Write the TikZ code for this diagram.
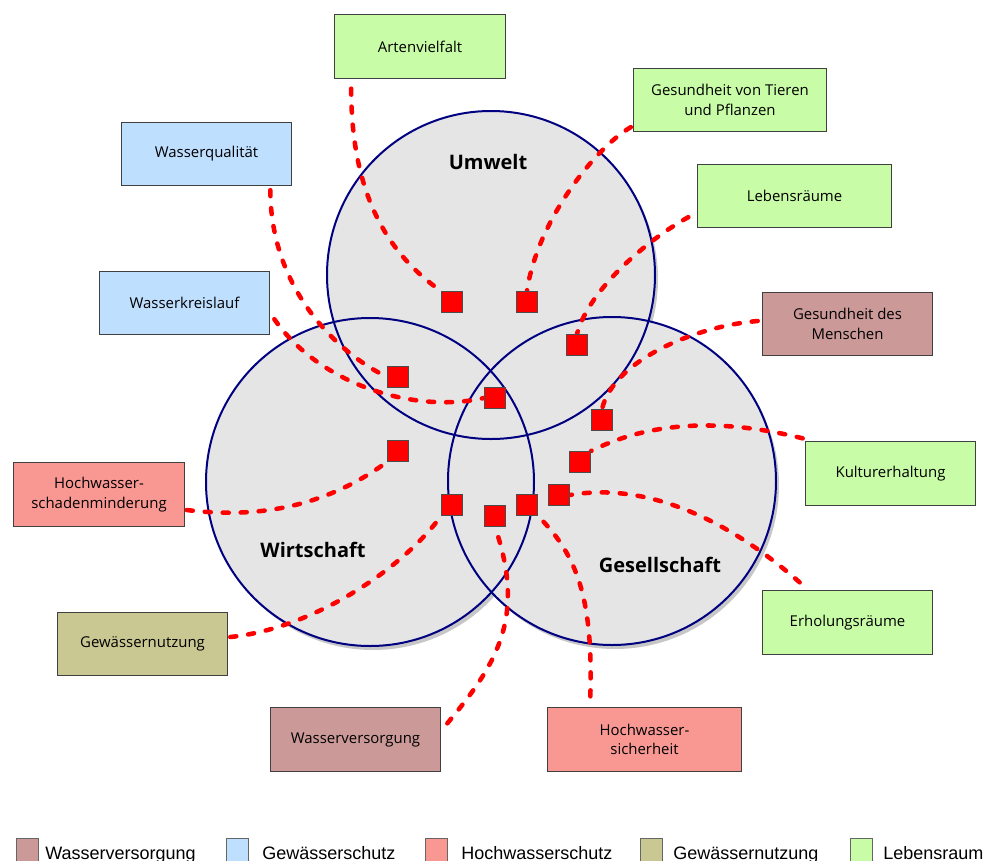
\documentclass[tikz,border=0pt]{standalone}
\usepackage{fontspec}
\setmainfont{Open Sans}
\newfontfamily\legendfont{Liberation Sans}
\usepackage{xcolor}
\usepackage{tikz}
\usetikzlibrary{positioning}
\definecolor{lebensraum}{HTML}{C8FCA6}
\definecolor{gschutz}{HTML}{BFDFFF}
\definecolor{wversorg}{HTML}{CC9999}
\definecolor{hwschutz}{HTML}{F99893}
\definecolor{gnutzung}{HTML}{CAC892}
\definecolor{kreisrand}{HTML}{000080}
\pgfdeclarelayer{kreise}
\pgfdeclarelayer{linien}
\pgfsetlayers{kreise,linien,main}
\def\KRad{164}
\def\BoxW{128pt}
\def\BoxWide{145pt}
\def\BoxH{47.5pt}
\tikzset{
	thema/.style={draw=black!75,line width=0.75pt,minimum width=\BoxW,minimum height=\BoxH,
		align=center,inner sep=2pt,font=\fontsize{11.2pt}{14.5pt}\selectfont},
	breit/.style={thema,minimum width=\BoxWide},
	punkt/.style={draw=black!70,fill=red,line width=0.75pt,minimum size=15.75pt,inner sep=0pt},
	bezug/.style={red,line width=3.4pt,dash pattern=on 4.5pt off 9pt,line cap=round},
	kreistitel/.style={font=\fontsize{15pt}{18pt}\selectfont\bfseries},
	legfeld/.style={draw=black!60,line width=0.6pt,minimum width=16.5pt,minimum height=24pt,inner sep=0pt,anchor=north west},
	legtext/.style={font=\fontsize{13.5pt}{16pt}\legendfont,anchor=base west,inner sep=0pt}
}

\begin{document}
\begin{tikzpicture}[x=0.75pt,y=-0.75pt]
	\useasboundingbox (0,0) rectangle (990,861);
	% circles
	\coordinate (umw) at (491,275);
	\coordinate (wirt) at (370,482);
	\coordinate (ges) at (612,481);
	\begin{pgfonlayer}{kreise}
		\foreach \c in {umw,wirt,ges}
			\fill[black!22] ([shift={(3,4)}]\c) circle (\KRad);
		\foreach \c in {umw,wirt,ges}
			\fill[black!10] (\c) circle (\KRad);
		\foreach \c in {umw,wirt,ges}
			\draw[kreisrand,line width=1.5pt] (\c) circle (\KRad);
	\end{pgfonlayer}
	\node[kreistitel] (umw-t) at (488,162) {Umwelt};
	\node[kreistitel] (wirt-t) at (313,550) {Wirtschaft};
	\node[kreistitel] (ges-t) at (660,565) {Gesellschaft};
	% boxes
	\node[thema,fill=lebensraum] (art) at (420,46.5) {Artenvielfalt};
	\node[breit,fill=lebensraum] (tier) at (730,100) {Gesundheit von Tieren\\und Pflanzen};
	\node[breit,fill=lebensraum] (leb) at (794.5,196) {Lebensräume};
	\node[thema,fill=gschutz] (wq) at (206.5,154) {Wasserqualität};
	\node[thema,fill=gschutz] (wk) at (184.5,303) {Wasserkreislauf};
	\node[thema,fill=wversorg] (mensch) at (847.5,324) {Gesundheit des\\Menschen};
	\node[thema,fill=lebensraum] (kult) at (890.5,473.5) {Kulturerhaltung};
	\node[thema,fill=lebensraum] (erh) at (847.5,622.5) {Erholungsräume};
	\node[thema,fill=hwschutz] (hws) at (99,494.5) {Hochwasser-\\schadenminderung};
	\node[thema,fill=gnutzung] (gn) at (142.5,644) {Gewässernutzung};
	\node[thema,fill=wversorg] (wv) at (355.5,739.5) {Wasserversorgung};
	\node[breit,fill=hwschutz] (hwsi) at (644.5,739.5) {Hochwasser-\\sicherheit};
	% markers
	\node[punkt] (p-art) at (452,302) {};
	\node[punkt] (p-tier) at (527,302) {};
	\node[punkt] (p-leb) at (577,345) {};
	\node[punkt] (p-wq) at (398,377) {};
	\node[punkt] (p-wk) at (495,398) {};
	\node[punkt] (p-mensch) at (602,420) {};
	\node[punkt] (p-kult) at (580,462) {};
	\node[punkt] (p-hws) at (398,451) {};
	\node[punkt] (p-gn) at (452,505) {};
	\node[punkt] (p-wv) at (495,516) {};
	\node[punkt] (p-hwsi) at (527,505) {};
	\node[punkt] (p-erh) at (559,495) {};
	% links
	\begin{pgfonlayer}{linien}
		\draw[bezug] ([shift={(17,10)}]art.south west) .. controls +(0,110) and +(-50,-35) .. (p-art.north west);
		\draw[bezug] ([shift={(-2,-5)}]tier.south west) .. controls +(-35,20) and +(10,-70) .. (p-tier.north);
		\draw[bezug] ([shift={(-9,-11)}]leb.south west) .. controls +(-40,22) and +(12,-45) .. (p-leb.north);
		\draw[bezug] ([shift={(-22,4)}]wq.south east) .. controls +(0,90) and +(-60,-30) .. (p-wq.west);
		\draw[bezug] ([shift={(4,-16)}]wk.south east) .. controls +(45,65) and +(-70,16) .. (p-wk.west);
		\draw[bezug] ([shift={(-4,-3)}]mensch.west) .. controls +(-60,5) and +(12,-50) .. (p-mensch.north);
		\draw[bezug] ([shift={(-2,-3)}]kult.north west) .. controls +(-80,-20) and +(60,-30) .. (p-kult.north east);
		\draw[bezug] ([shift={(38,-8)}]erh.north west) .. controls +(-80,-70) and +(70,-12) .. (p-erh.east);
		\draw[bezug] ([shift={(43,-11)}]hwsi.north west) .. controls +(3,-100) and +(38,38) .. (p-hwsi.south east);
		\draw[bezug] ([shift={(6,16)}]wv.north east) .. controls +(50,-60) and +(31,90) .. (p-wv.south);
		\draw[bezug] ([shift={(2,-7)}]gn.east) .. controls +(80,-8) and +(-40,55) .. (p-gn.south west);
		\draw[bezug] ([shift={(2,15.5)}]hws.east) .. controls +(80,10) and +(-55,40) .. (p-hws.south west);
	\end{pgfonlayer}
	% legend
	\node[legfeld,fill=wversorg] (l1) at (16,838) {};
	\node[legtext] (l1-t) at (45,859) {Wasserversorgung};
	\node[legfeld,fill=gschutz] (l2) at (226,838) {};
	\node[legtext] (l2-t) at (262,859) {Gewässerschutz};
	\node[legfeld,fill=hwschutz] (l3) at (425,838) {};
	\node[legtext] (l3-t) at (461,859) {Hochwasserschutz};
	\node[legfeld,fill=gnutzung] (l4) at (640,838) {};
	\node[legtext] (l4-t) at (673,859) {Gewässernutzung};
	\node[legfeld,fill=lebensraum] (l5) at (850,838) {};
	\node[legtext] (l5-t) at (883,859) {Lebensraum};
\end{tikzpicture}
\end{document}
